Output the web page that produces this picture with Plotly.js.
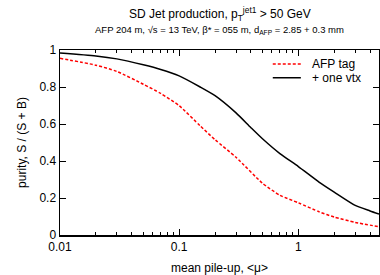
<!DOCTYPE html>
<html>
<head>
<meta charset="utf-8">
<script src="https://cdn.plot.ly/plotly-3.0.1.min.js"></script>
<style>html,body{margin:0;padding:0;background:#fff}#chart{width:380px;height:275px}</style>
</head>
<body>
<div id="chart"></div>
<script>
const muTag = [0.01, 0.02, 0.03, 0.05, 0.07, 0.1, 0.15, 0.2, 0.3, 0.5, 0.7, 1.0, 1.5, 2, 3, 4.75];
const purityTag = [0.955, 0.918, 0.884, 0.815, 0.765, 0.699, 0.59, 0.515, 0.42, 0.28, 0.215, 0.174, 0.125, 0.097, 0.068, 0.045];
const muVtx = [0.01, 0.02, 0.03, 0.05, 0.07, 0.1, 0.15, 0.2, 0.3, 0.4, 0.5, 0.7, 1.0, 1.5, 2, 3, 4, 4.75];
const purityVtx = [0.984, 0.968, 0.952, 0.92, 0.895, 0.86, 0.80, 0.753, 0.66, 0.58, 0.52, 0.44, 0.37, 0.285, 0.232, 0.16, 0.13, 0.113];
const seriesNames = ['AFP tag', '+ one vtx'];
const xTickVals = [0.01, 0.1, 1];
const xTickText = ['0.01', '0.1', '1'];
const xMinorVals = [0.02,0.03,0.04,0.05,0.06,0.07,0.08,0.09,0.2,0.3,0.4,0.5,0.6,0.7,0.8,0.9,2,3,4];
const yTickVals = [0, 0.2, 0.4, 0.6, 0.8, 1];
const yTickText = ['0', '0.2', '0.4', '0.6', '0.8', '1'];

const font = {family: 'Liberation Sans, Arial, sans-serif', color: '#000'};
const F = s => Object.assign({size: s}, font);
const xr = [Math.log10(0.01), Math.log10(4.75)];

const data = [
  {x: muTag, y: purityTag, mode: 'lines', name: seriesNames[0], line: {color: '#ff0000', width: 1.5, dash: '3px,2px', shape: 'spline', smoothing: 0.6}},
  {x: muVtx, y: purityVtx, mode: 'lines', name: seriesNames[1], line: {color: '#000', width: 1.5, shape: 'spline', smoothing: 0.6}},
  {x: [0.01], y: [-1], xaxis: 'x2', yaxis: 'y', mode: 'markers', showlegend: false, hoverinfo: 'skip', marker: {opacity: 0}}
];

const layout = {
  width: 380, height: 275,
  margin: {l: 60, r: 1, t: 50, b: 40},
  paper_bgcolor: '#fff', plot_bgcolor: '#fff',
  font: F(12),
  showlegend: false,
  xaxis: {type: 'log', range: xr, tickvals: xTickVals, ticktext: xTickText, ticks: 'inside', ticklen: 6, tickwidth: 1, tickcolor: '#000',
    showline: true, linecolor: '#000', linewidth: 1.5, mirror: 'ticks', showgrid: false, zeroline: false,
    tickfont: F(12),
    title: {text: 'mean pile-up, <μ>', font: F(12), standoff: 12}},
  xaxis2: {type: 'log', range: xr, overlaying: 'x', tickvals: xMinorVals, showticklabels: false, ticks: 'inside', ticklen: 3, tickcolor: '#000',
    showline: false, showgrid: false, zeroline: false, mirror: 'ticks', anchor: 'y'},
  yaxis: {range: [0, 1], tickvals: yTickVals, ticktext: yTickText, ticks: 'inside', ticklen: 6, tickwidth: 1, tickcolor: '#000',
    showline: true, linecolor: '#000', linewidth: 1.5, mirror: 'ticks', showgrid: false, zeroline: false,
    tickfont: F(12),
    title: {text: 'purity, S / (S + B)', font: F(12), standoff: 10}},
  shapes: [
    {type: 'line', xref: 'paper', yref: 'paper', x0: 0.667, x1: 0.755, y0: 0.925, y1: 0.925, line: {color: '#ff0000', width: 1.5, dash: '3px,2px'}},
    {type: 'line', xref: 'paper', yref: 'paper', x0: 0.667, x1: 0.755, y0: 0.850, y1: 0.850, line: {color: '#000', width: 1.5}}
  ],
  annotations: [
    {xref: 'paper', yref: 'paper', x: 0.5, y: 1, yshift: 36, xanchor: 'center', yanchor: 'middle', showarrow: false,
     text: 'SD Jet production, p<sub>T</sub><sup>jet1</sup> > 50 GeV', font: F(12)},
    {xref: 'paper', yref: 'paper', x: 0.5, y: 1, yshift: 20, xanchor: 'center', yanchor: 'middle', showarrow: false,
     text: 'AFP 204 m, √s = 13 TeV, β* = 055 m, d<sub>AFP</sub> = 2.85 + 0.3 mm', font: F(9.5)},
    {xref: 'paper', yref: 'paper', x: 0.784, y: 0.925, xanchor: 'left', yanchor: 'middle', showarrow: false, text: seriesNames[0], font: F(12)},
    {xref: 'paper', yref: 'paper', x: 0.784, y: 0.850, xanchor: 'left', yanchor: 'middle', showarrow: false, text: seriesNames[1], font: F(12)}
  ]
};
Plotly.newPlot('chart', data, layout, {displayModeBar: false, staticPlot: true});
</script>
</body>
</html>
